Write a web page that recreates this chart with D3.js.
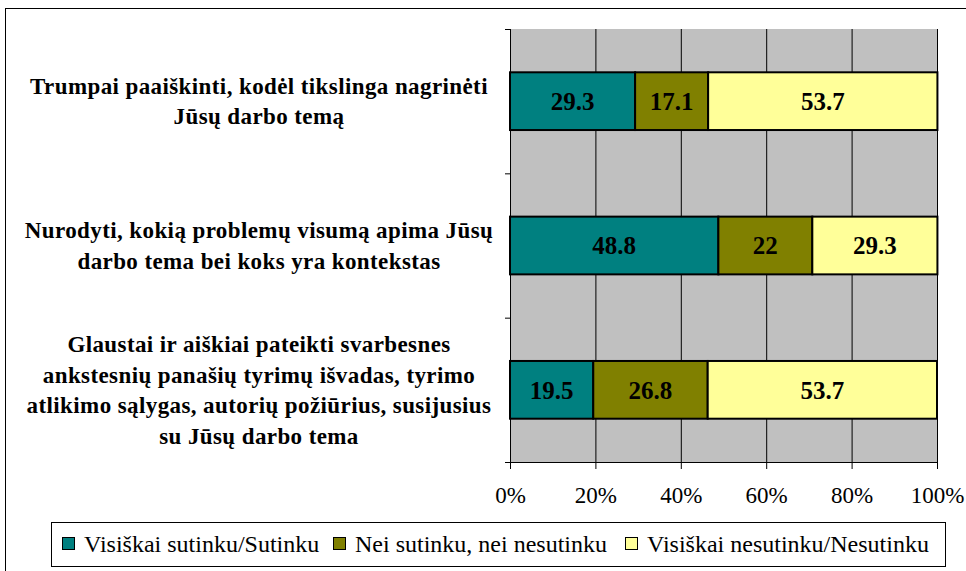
<!DOCTYPE html>
<html>
<head>
<meta charset="utf-8">
<script src="https://cdn.jsdelivr.net/npm/d3@7"></script>
<style>
  body { margin: 0; background: #fff; }
</style>
</head>
<body>
<svg id="chart" width="966" height="571"></svg>
<script>
// categories (top to bottom) and their wrapped label lines
const categories = [
  ["Trumpai paaiškinti, kodėl tikslinga nagrinėti", "Jūsų darbo temą"],
  ["Nurodyti, kokią problemų visumą apima Jūsų", "darbo tema bei koks yra kontekstas"],
  ["Glaustai ir aiškiai pateikti svarbesnes", "ankstesnių panašių tyrimų išvadas, tyrimo",
   "atlikimo sąlygas, autorių požiūrius, susijusius", "su Jūsų darbo tema"]
];
const seriesNames = ["Visiškai sutinku/Sutinku", "Nei sutinku, nei nesutinku", "Visiškai nesutinku/Nesutinku"];
const agree = [29.3, 48.8, 19.5];
const neutral = [17.1, 22, 26.8];
const disagree = [53.7, 29.3, 53.7];
const colors = ["#008080", "#808000", "#ffff99"];
const xTicks = [0, 20, 40, 60, 80, 100];

const FONT = "Liberation Serif";
const svg = d3.select("#chart").attr("font-family", FONT);

// outer frame
svg.append("rect").attr("x", 5.5).attr("y", 8.5).attr("width", 970).attr("height", 580)
  .attr("fill", "none").attr("stroke", "#000").attr("stroke-width", 1);

const plot = { left: 510, right: 937, top: 29, bottom: 462 };

const x = d3.scaleLinear().domain([0, 100]).range([plot.left, plot.right]);
const y = d3.scaleBand().domain(d3.range(categories.length))
  .range([plot.top, plot.bottom]).paddingInner(0.6).paddingOuter(0.3);

// plot background
svg.append("rect").attr("x", plot.left).attr("y", plot.top)
  .attr("width", plot.right - plot.left).attr("height", plot.bottom - plot.top)
  .attr("fill", "#c0c0c0");

// vertical gridlines
svg.append("g").selectAll("line").data(xTicks.slice(1)).join("line")
  .attr("x1", d => x(d) + 0.5).attr("x2", d => x(d) + 0.5)
  .attr("y1", plot.top).attr("y2", plot.bottom)
  .attr("stroke", "#000").attr("stroke-width", 1);

// stacked bars
const rows = categories.map((c, i) => ({ i, agree: agree[i], neutral: neutral[i], disagree: disagree[i] }));
const stack = d3.stack().keys(["agree", "neutral", "disagree"]);
const layers = stack(rows);

const bars = svg.append("g").selectAll("g").data(layers).join("g")
  .attr("fill", (d, k) => colors[k]);

bars.selectAll("rect").data(d => d).join("rect")
  .attr("x", d => x(d[0]))
  .attr("y", d => y(d.data.i))
  .attr("width", d => x(d[1]) - x(d[0]))
  .attr("height", y.bandwidth())
  .attr("stroke", "#000").attr("stroke-width", 2);

bars.selectAll("text").data(d => d.map(v => ({ v, val: v[1] - v[0] }))).join("text")
  .attr("x", d => (x(d.v[0]) + x(d.v[1])) / 2)
  .attr("y", d => y(d.v.data.i) + y.bandwidth() / 2)
  .attr("dy", "0.35em")
  .attr("text-anchor", "middle")
  .attr("font-family", FONT)
  .attr("fill", "#000")
  .attr("font-weight", "bold")
  .attr("font-size", 25)
  .text(d => +d.val.toFixed(1));

// x axis
const xAxis = svg.append("g").attr("transform", `translate(0,${plot.bottom})`)
  .call(d3.axisBottom(x).tickValues(xTicks).tickFormat(d => d + "%").tickSize(7).tickPadding(18));
xAxis.attr("font-family", FONT);
xAxis.select(".domain").attr("stroke", "#000").attr("d", `M${plot.left},0.5H${plot.right}`);
xAxis.selectAll(".tick line").attr("stroke", "#000");
xAxis.selectAll("text").attr("font-size", 23).attr("fill", "#000");

// y axis line with ticks at category boundaries
const yAxisG = svg.append("g");
yAxisG.append("line").attr("x1", plot.left + 0.5).attr("x2", plot.left + 0.5)
  .attr("y1", plot.top).attr("y2", plot.bottom).attr("stroke", "#000");
const step = (plot.bottom - plot.top) / categories.length;
yAxisG.selectAll("line.tk").data(d3.range(categories.length + 1)).join("line")
  .attr("class", "tk")
  .attr("x1", plot.left - 5).attr("x2", plot.left)
  .attr("y1", d => plot.top + d * step + 0.5).attr("y2", d => plot.top + d * step + 0.5)
  .attr("stroke", "#000");

// category labels
const lineH = 30.5;
svg.append("g").selectAll("text").data(categories).join("text")
  .attr("text-anchor", "middle")
  .attr("font-family", FONT)
  .attr("font-weight", "bold")
  .attr("font-size", 23)
  .attr("letter-spacing", 0.4)
  .attr("fill", "#000")
  .each(function (lines, i) {
    const cy = y(i) + y.bandwidth() / 2;
    const y0 = cy - (lines.length - 1) * lineH / 2;
    d3.select(this).selectAll("tspan").data(lines).join("tspan")
      .attr("x", 259)
      .attr("y", (d, j) => y0 + j * lineH)
      .attr("dy", "0.35em")
      .text(d => d);
  });

// legend
const legend = svg.append("g");
legend.append("rect").attr("x", 51.5).attr("y", 522.5).attr("width", 894).attr("height", 44)
  .attr("fill", "#fff").attr("stroke", "#000");
const legendX = [62, 333, 625];
const items = legend.selectAll("g").data(seriesNames).join("g")
  .attr("transform", (d, k) => `translate(${legendX[k]},544)`);
items.append("rect").attr("x", 0.5).attr("y", -6.5).attr("width", 12).attr("height", 12)
  .attr("fill", (d, k) => colors[k]).attr("stroke", "#000");
items.append("text").attr("x", 22).attr("dy", "0.35em")
  .attr("font-family", FONT)
  .attr("font-size", 24).attr("fill", "#000").text(d => d);
</script>
</body>
</html>
